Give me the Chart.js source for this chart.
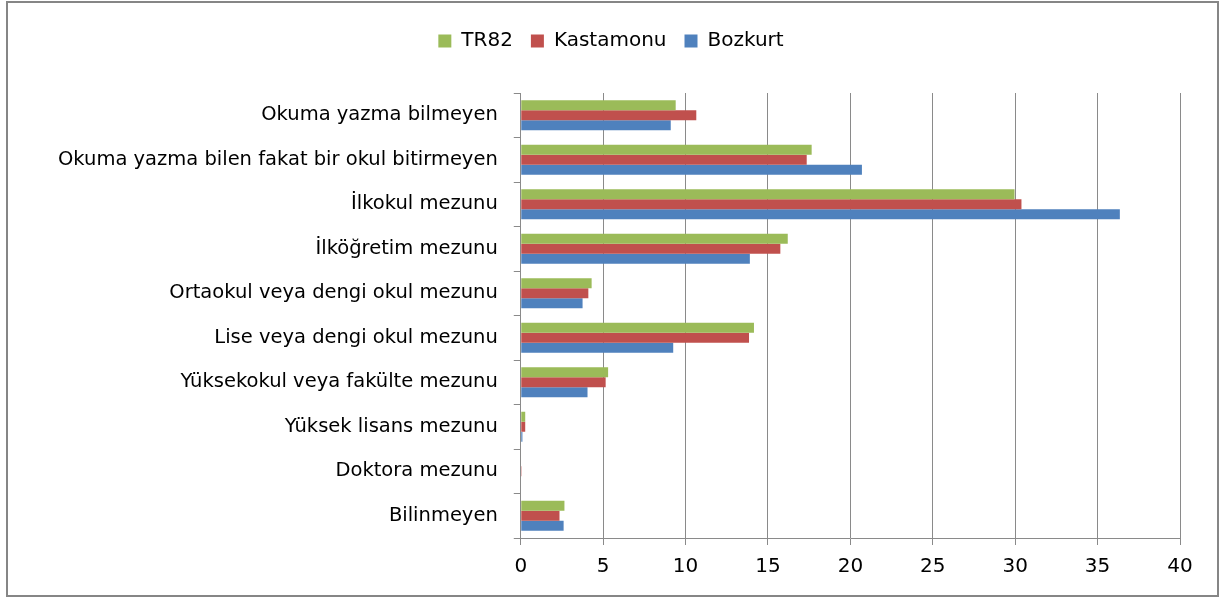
<!DOCTYPE html>
<html>
<head>
<meta charset="utf-8">
<script src="https://cdn.jsdelivr.net/npm/chart.js@4"></script>
<style>
    body { margin: 0; background: #fff; }
    #box {
        position: absolute; left: 6px; top: 1px;
        width: 1209px; height: 592px;
        border: 2px solid #868686;
    }
</style>
</head>
<body>
<div id="box"><canvas id="egitimChart" width="1209" height="592"></canvas></div>
<script>
const categories = [
    'Okuma yazma bilmeyen',
    'Okuma yazma bilen fakat bir okul bitirmeyen',
    'İlkokul mezunu',
    'İlköğretim mezunu',
    'Ortaokul veya dengi okul mezunu',
    'Lise veya dengi okul mezunu',
    'Yüksekokul veya fakülte mezunu',
    'Yüksek lisans mezunu',
    'Doktora mezunu',
    'Bilinmeyen'
];
const tr82 = [9.4, 17.65, 29.96, 16.2, 4.3, 14.15, 5.3, 0.27, 0.03, 2.65];
const kastamonu = [10.65, 17.35, 30.38, 15.75, 4.1, 13.85, 5.15, 0.27, 0.05, 2.35];
const bozkurt = [9.1, 20.7, 36.35, 13.9, 3.75, 9.25, 4.05, 0.1, 0.0, 2.6];
const xTicks = [0, 5, 10, 15, 20, 25, 30, 35, 40];

const grey = '#8a8a8a';
const font = { family: 'DejaVu Sans', size: 19.5 };

// espace sous la légende
const legendGap = {
    id: 'legendGap',
    beforeInit(chart) {
        const fit = chart.legend.fit;
        chart.legend.fit = function () {
            fit.bind(chart.legend)();
            this.height += 32;
        };
    }
};

new Chart(document.getElementById('egitimChart'), {
    type: 'bar',
    data: {
        labels: categories,
        datasets: [
            { label: 'TR82', data: tr82, backgroundColor: '#9BBB59' },
            { label: 'Kastamonu', data: kastamonu, backgroundColor: '#C0504D' },
            { label: 'Bozkurt', data: bozkurt, backgroundColor: '#4F81BD' }
        ]
    },
    options: {
        indexAxis: 'y',
        responsive: false,
        animation: false,
        categoryPercentage: 0.67,
        barPercentage: 1.0,
        layout: { padding: { top: 10, right: 37, left: 34, bottom: 6 } },
        plugins: {
            legend: {
                position: 'top',
                labels: {
                    font: { family: 'DejaVu Sans', size: 20 },
                    color: '#000',
                    boxWidth: 13,
                    boxHeight: 13,
                    padding: 18
                }
            },
            tooltip: { enabled: false }
        },
        scales: {
            x: {
                min: 0,
                max: 40,
                afterBuildTicks: axis => { axis.ticks = xTicks.map(v => ({ value: v })); },
                grid: { color: grey, lineWidth: 1, tickLength: 7 },
                border: { color: grey, width: 1 },
                ticks: { font: { family: 'DejaVu Sans', size: 20 }, color: '#000', padding: 10 }
            },
            y: {
                grid: { drawOnChartArea: false, color: grey, tickLength: 7 },
                border: { color: grey, width: 1 },
                ticks: { font: font, color: '#000', padding: 16 }
            }
        }
    },
    plugins: [legendGap]
});
</script>
</body>
</html>
